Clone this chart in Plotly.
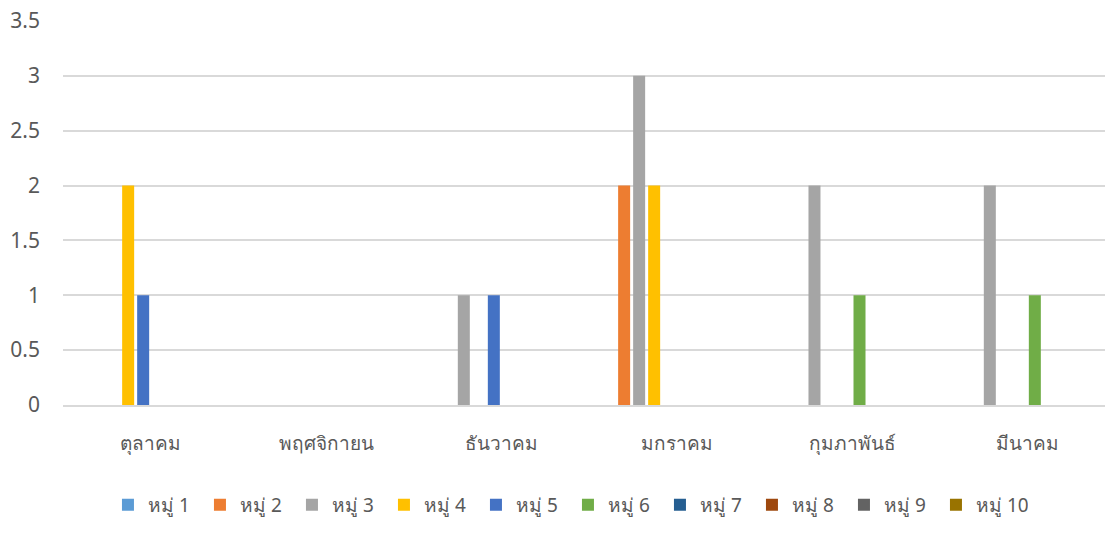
import plotly.graph_objects as go

months = ["ตุลาคม", "พฤศจิกายน", "ธันวาคม", "มกราคม", "กุมภาพันธ์", "มีนาคม"]
series_names = ["หมู่ 1", "หมู่ 2", "หมู่ 3", "หมู่ 4", "หมู่ 5",
                "หมู่ 6", "หมู่ 7", "หมู่ 8", "หมู่ 9", "หมู่ 10"]
m1 = [0, 0, 0, 0, 0, 0]
m2 = [0, 0, 0, 2, 0, 0]
m3 = [0, 0, 1, 3, 2, 2]
m4 = [2, 0, 0, 2, 0, 0]
m5 = [1, 0, 1, 0, 0, 0]
m6 = [0, 0, 0, 0, 1, 1]
m7 = [0, 0, 0, 0, 0, 0]
m8 = [0, 0, 0, 0, 0, 0]
m9 = [0, 0, 0, 0, 0, 0]
m10 = [0, 0, 0, 0, 0, 0]
values = [m1, m2, m3, m4, m5, m6, m7, m8, m9, m10]
colors = ["#5B9BD5", "#ED7D31", "#A5A5A5", "#FFC000", "#4472C4",
          "#70AD47", "#255E91", "#9E480E", "#636363", "#997300"]

FONT = "Noto Sans, DejaVu Sans, sans-serif"

fig = go.Figure()
for name, vals, col in zip(series_names, values, colors):
    fig.add_trace(go.Bar(x=months, y=vals, name=name, marker_color=col,
                         marker_line_width=0))

fig.update_layout(
    width=1115, height=533,
    margin=dict(l=63, r=0, t=21, b=128, autoexpand=False),
    paper_bgcolor="white", plot_bgcolor="white",
    barmode="group", bargap=0.144, bargroupgap=0.2,
    font=dict(family=FONT, size=20, color="#595959"),
    showlegend=True,
    legend=dict(orientation="h", x=0.48, xanchor="center", y=-0.26, yanchor="middle",
                font=dict(size=19, color="#595959"), itemwidth=30,
                entrywidth=47, entrywidthmode="pixels", traceorder="normal"),
    xaxis=dict(showgrid=False, showline=True, linecolor="#D9D9D9", linewidth=1.5,
               ticks="", ticklabelstandoff=20, tickfont=dict(size=19, color="#595959")),
    yaxis=dict(range=[0, 3.5], dtick=0.5, showgrid=True, gridcolor="#D9D9D9",
               gridwidth=1.5, zeroline=False, showline=False, ticks="",
               ticklabelstandoff=22, tickformat="", tickfont=dict(size=21, color="#595959")),
)
fig.write_html("out.html", config={"displayModeBar": False},
               post_script="document.body.style.margin='0';document.body.style.overflow='hidden';")
